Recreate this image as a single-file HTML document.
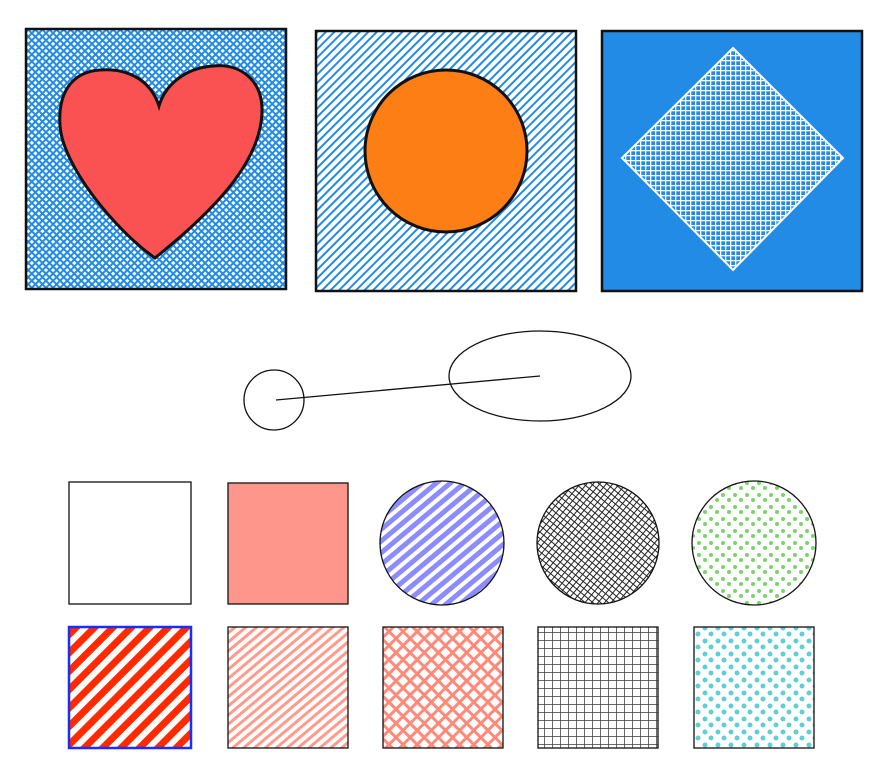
<!DOCTYPE html>
<html><head><meta charset="utf-8"><style>
html,body{margin:0;padding:0;background:#fff;}
svg{display:block;}
</style></head><body>
<svg width="891" height="781" viewBox="0 0 891 781" xmlns="http://www.w3.org/2000/svg">
<defs>
<pattern id="blueX" width="5" height="5" patternUnits="userSpaceOnUse" patternTransform="rotate(45)">
<rect width="5" height="5" fill="#fff"/><rect width="2" height="5" fill="#228be6"/><rect width="5" height="2" fill="#228be6"/></pattern>
<pattern id="blueD" width="6" height="6" patternUnits="userSpaceOnUse" patternTransform="rotate(-45)">
<rect width="6" height="6" fill="#fff"/><rect width="6" height="2" fill="#228be6"/></pattern>
<pattern id="whiteX" width="5" height="5" patternUnits="userSpaceOnUse">
<rect width="5" height="5" fill="#228be6"/><rect width="1.3" height="5" fill="#fff"/><rect width="5" height="1.3" fill="#fff"/></pattern>
<pattern id="purpH" width="9" height="9" patternUnits="userSpaceOnUse" patternTransform="rotate(-40)">
<rect width="9" height="9" fill="#fff"/><rect width="9" height="5" fill="#8c8cff"/></pattern>
<pattern id="blackX" width="5" height="5" patternUnits="userSpaceOnUse" patternTransform="rotate(40)">
<rect width="5" height="5" fill="#fff"/><rect width="1" height="5" fill="#222"/><rect width="5" height="1" fill="#222"/></pattern>
<pattern id="greenDots" width="12" height="12" patternUnits="userSpaceOnUse">
<rect width="12" height="12" fill="#fff"/><circle cx="3" cy="3" r="2" fill="#7ad46a"/><circle cx="9" cy="8" r="2" fill="#7ad46a"/></pattern>
<pattern id="redH" width="13" height="13" patternUnits="userSpaceOnUse" patternTransform="rotate(-45)">
<rect width="13" height="13" fill="#fff"/><rect width="13" height="7" fill="#ff2a00"/></pattern>
<pattern id="salmonH" width="7" height="7" patternUnits="userSpaceOnUse" patternTransform="rotate(-40)">
<rect width="7" height="7" fill="#fff"/><rect width="7" height="3" fill="#ff9a8c"/></pattern>
<pattern id="salmonX" width="10" height="10" patternUnits="userSpaceOnUse" patternTransform="rotate(45)">
<rect width="10" height="10" fill="#fff"/><rect width="3" height="10" fill="#ff8a7a"/><rect width="10" height="3" fill="#ff8a7a"/></pattern>
<pattern id="grid" width="8" height="8" patternUnits="userSpaceOnUse">
<rect width="8" height="8" fill="#fff"/><rect width="0.8" height="8" fill="#444"/><rect width="8" height="0.8" fill="#444"/></pattern>
<pattern id="cyanDots" width="13" height="13" patternUnits="userSpaceOnUse">
<rect width="13" height="13" fill="#fff"/><circle cx="3" cy="4" r="2.5" fill="#5fcfd6"/><circle cx="9" cy="10" r="2.5" fill="#5fcfd6"/></pattern>
</defs>

<rect x="26" y="29" width="260" height="260" fill="url(#blueX)" stroke="#111" stroke-width="2.5"/>
<path d="M159,106 C150,78 125,68 100,70 C70,72 58,95 60,125 C62,165 115,230 155,258 C195,225 262,170 262,110 C262,80 240,63 213,66 C185,68 165,85 159,106 Z" fill="#fa5252" stroke="#111" stroke-width="3"/>

<rect x="316" y="31" width="260" height="260" fill="url(#blueD)" stroke="#111" stroke-width="2.5"/>
<circle cx="446" cy="151" r="81" fill="#fd7e14" stroke="#111" stroke-width="3"/>

<rect x="602" y="31" width="260" height="260" fill="#228be6" stroke="#111" stroke-width="2.5"/>
<polygon points="733,48 843,158 733,270 622,158" fill="url(#whiteX)" stroke="#fff" stroke-width="2"/>

<circle cx="274" cy="400" r="30" fill="none" stroke="#111" stroke-width="1.3"/>
<line x1="276" y1="400" x2="540" y2="376" stroke="#111" stroke-width="1.3"/>
<ellipse cx="540" cy="376" rx="91" ry="45" fill="none" stroke="#111" stroke-width="1.3"/>

<rect x="69" y="482" width="122" height="122" fill="#fff" stroke="#111" stroke-width="1.3"/>
<rect x="228" y="483" width="120" height="121" fill="#ff968c" stroke="#111" stroke-width="1.3"/>
<circle cx="442" cy="543" r="62" fill="url(#purpH)" stroke="#111" stroke-width="1.3"/>
<circle cx="598" cy="543" r="61" fill="url(#blackX)" stroke="#111" stroke-width="1.3"/>
<circle cx="754" cy="543" r="62" fill="url(#greenDots)" stroke="#111" stroke-width="1.3"/>

<rect x="69" y="627" width="122" height="121" fill="url(#redH)" stroke="#1a2cff" stroke-width="2.5"/>
<rect x="228" y="627" width="120" height="121" fill="url(#salmonH)" stroke="#111" stroke-width="1.3"/>
<rect x="383" y="627" width="120" height="121" fill="url(#salmonX)" stroke="#111" stroke-width="1.3"/>
<rect x="538" y="627" width="120" height="121" fill="url(#grid)" stroke="#111" stroke-width="1.3"/>
<rect x="694" y="627" width="120" height="121" fill="url(#cyanDots)" stroke="#111" stroke-width="1.3"/>
</svg>
</body></html>
